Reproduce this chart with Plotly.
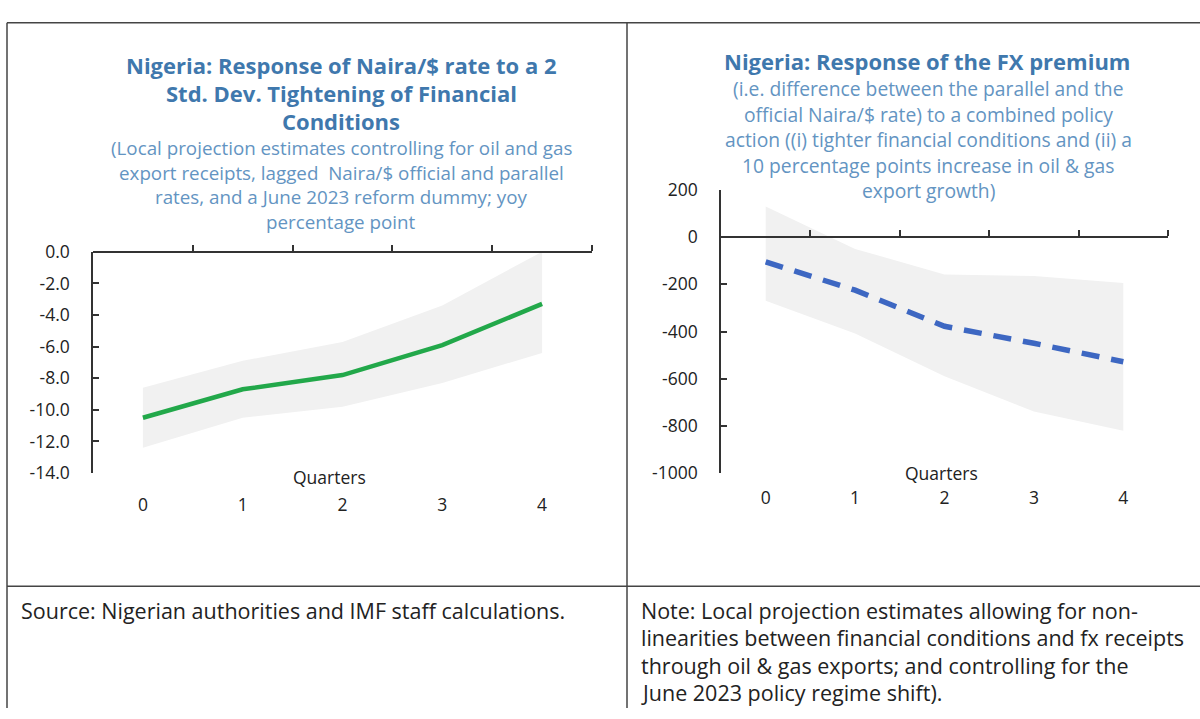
import plotly.graph_objects as go

# data
quarters = [0, 1, 2, 3, 4]
quarter_labels = ["0", "1", "2", "3", "4"]

naira_mid = [-10.5, -8.7, -7.8, -5.9, -3.3]
naira_upper = [-8.6, -6.9, -5.7, -3.4, 0.0]
naira_lower = [-12.4, -10.5, -9.8, -8.3, -6.4]

premium_mid = [-105, -225, -378, -450, -528]
premium_upper = [130, -50, -158, -165, -195]
premium_lower = [-270, -408, -590, -739, -820]

left_yticks = [0, -2, -4, -6, -8, -10, -12, -14]
left_yticktext = ["0.0", "-2.0", "-4.0", "-6.0", "-8.0", "-10.0", "-12.0", "-14.0"]
right_yticks = [200, 0, -200, -400, -600, -800, -1000]
right_yticktext = ["200", "0", "-200", "-400", "-600", "-800", "-1000"]

left_title = ["Nigeria: Response of Naira/$ rate to a 2",
              "Std. Dev. Tightening of Financial",
              "Conditions"]
left_sub = ["(Local projection estimates controlling for oil and gas",
            "export receipts, lagged  Naira/$ official and parallel",
            "rates, and a June 2023 reform dummy; yoy",
            "percentage point"]
right_title = ["Nigeria: Response of the FX premium"]
right_sub = ["(i.e. difference between the parallel and the",
             "official Naira/$ rate) to a combined policy",
             "action ((i) tighter financial conditions and (ii) a",
             "10 percentage points increase in oil &amp; gas",
             "export growth)"]
source_text = ["Source: Nigerian authorities and IMF staff calculations."]
note_text = ["Note: Local projection estimates allowing for non-",
             "linearities between financial conditions and fx receipts",
             "through oil &amp; gas exports; and controlling for the",
             "June 2023 policy regime shift)."]

W, H = 1200, 719
FONT = "Open Sans"
TITLE_BLUE = "#3f78ad"
SUB_BLUE = "#6394c2"
DARK = "#222222"
BAND = "#f1f1f1"


def px_x(p):
    return p / W


def px_y(p):
    return 1 - p / H


fig = go.Figure()

# left panel: band + line
fig.add_trace(go.Scatter(
    x=quarters + quarters[::-1], y=naira_upper + naira_lower[::-1],
    fill="toself", fillcolor=BAND, line=dict(width=0), mode="lines",
    hoverinfo="skip", showlegend=False, xaxis="x", yaxis="y"))
fig.add_trace(go.Scatter(
    x=quarters, y=naira_mid, mode="lines",
    line=dict(color="#22a84a", width=4.5), showlegend=False,
    xaxis="x", yaxis="y"))

# right panel: band + dashed line
fig.add_trace(go.Scatter(
    x=quarters + quarters[::-1], y=premium_upper + premium_lower[::-1],
    fill="toself", fillcolor=BAND, line=dict(width=0), mode="lines",
    hoverinfo="skip", showlegend=False, xaxis="x2", yaxis="y2"))
fig.add_trace(go.Scatter(
    x=quarters, y=premium_mid, mode="lines",
    line=dict(color="#3d67c2", width=5.5, dash="18px,12px"), showlegend=False,
    xaxis="x2", yaxis="y2"))

# domains (pixel-derived)
lx = [px_x(93), px_x(592)]
ly = [px_y(476), px_y(247)]
rx = [px_x(721), px_x(1168)]
ry = [px_y(476), px_y(183)]
r_zero = ry[0] + (ry[1] - ry[0]) * 1000 / 1200

tickfont = dict(family=FONT, size=17.5, color=DARK)
common_x = dict(range=[-0.5, 4.5], tickvals=quarters, ticktext=quarter_labels,
                showline=False, ticks="", showgrid=False, zeroline=False,
                tickfont=tickfont)
common_top = dict(range=[-0.5, 4.5], tickvals=[0.5, 1.5, 2.5, 3.5, 4.5],
                  showticklabels=False, showline=True, linecolor="#333",
                  linewidth=1.5, ticks="outside", ticklen=6, tickwidth=1.5,
                  tickcolor="#333", showgrid=False, zeroline=False,
                  side="top", anchor="free")
common_y = dict(showline=True, linecolor="#333", linewidth=1.5, ticks="inside",
                ticklen=6, tickwidth=1.5, tickcolor="#333", showgrid=False,
                zeroline=False, tickfont=tickfont, ticklabelstandoff=18)

fig.update_layout(
    width=W, height=H, margin=dict(l=0, r=0, t=0, b=0),
    paper_bgcolor="white", plot_bgcolor="rgba(0,0,0,0)",
    xaxis=dict(domain=lx, anchor="y", ticklabelstandoff=19, **common_x),
    yaxis=dict(domain=ly, anchor="x", range=[-14, 0], tickvals=left_yticks,
               ticktext=left_yticktext, **common_y),
    xaxis2=dict(domain=rx, anchor="y2", ticklabelstandoff=12, **common_x),
    yaxis2=dict(domain=ry, anchor="x2", range=[-1000, 200], tickvals=right_yticks,
                ticktext=right_yticktext, **common_y),
    xaxis3=dict(domain=lx, overlaying="x", position=ly[1], **common_top),
    xaxis4=dict(domain=rx, overlaying="x2", position=r_zero, **common_top),
)

# invisible traces so the overlay axes render
fig.add_trace(go.Scatter(x=quarters, y=naira_mid, mode="none", showlegend=False,
                         hoverinfo="skip", xaxis="x3", yaxis="y"))
fig.add_trace(go.Scatter(x=quarters, y=premium_mid, mode="none", showlegend=False,
                         hoverinfo="skip", xaxis="x4", yaxis="y2"))

# frame lines
frame = dict(color="#444", width=1.5)
fig.add_shape(type="line", xref="paper", yref="paper", x0=px_x(7), x1=1, y0=px_y(10), y1=px_y(10), line=frame)
fig.add_shape(type="line", xref="paper", yref="paper", x0=px_x(7), x1=px_x(7), y0=px_y(10), y1=0, line=frame)
fig.add_shape(type="line", xref="paper", yref="paper", x0=px_x(627), x1=px_x(627), y0=px_y(10), y1=0, line=frame)
fig.add_shape(type="line", xref="paper", yref="paper", x0=px_x(7), x1=1, y0=px_y(593), y1=px_y(593), line=frame)


def text_block(lines, x, y0, step, font, anchor="center"):
    for i, line in enumerate(lines):
        fig.add_annotation(x=px_x(x), y=px_y(y0 + i * step), xref="paper", yref="paper",
                           xanchor=anchor, yanchor="middle", text=line,
                           showarrow=False, font=font)


title_font = dict(family=FONT, size=22, color=TITLE_BLUE, weight="bold")
lsub_font = dict(family=FONT, size=18.8, color=SUB_BLUE)
rsub_font = dict(family=FONT, size=19.3, color=SUB_BLUE)
foot_font = dict(family=FONT, size=21.5, color=DARK)

text_block(left_title, 341, 54, 28.8, title_font)
text_block(left_sub, 341, 140, 25.3, lsub_font)
text_block(right_title, 927, 50, 28, title_font)
text_block(right_sub, 928, 78.5, 26.3, rsub_font)
text_block(source_text, 19, 618, 28, foot_font, anchor="left")
text_block(note_text, 639, 618, 28.3, foot_font, anchor="left")

# axis titles
qfont = dict(family=FONT, size=17.5, color=DARK)
fig.add_annotation(x=1.87, y=-14, xref="x", yref="y", yanchor="middle", yshift=-4,
                   text="Quarters", showarrow=False, font=qfont)
fig.add_annotation(x=1.97, y=-1000, xref="x2", yref="y2", yanchor="middle", yshift=0,
                   text="Quarters", showarrow=False, font=qfont)

fig.write_html(
    "out.html",
    config={"displayModeBar": False},
    post_script="document.body.style.margin='0';document.documentElement.style.overflow='hidden';",
)
